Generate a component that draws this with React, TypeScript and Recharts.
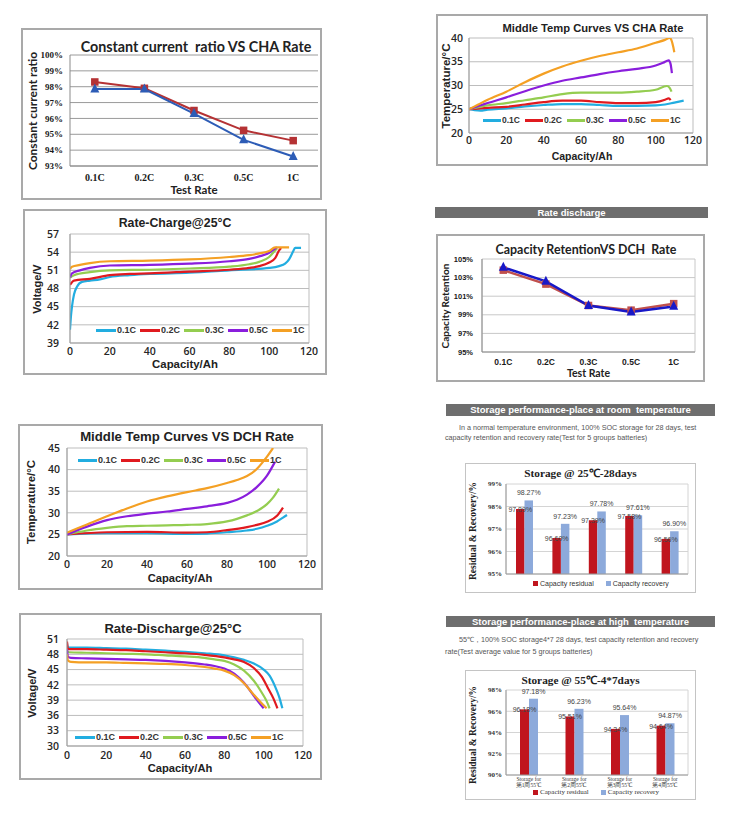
import React from "react";
import {
	Bar,
	BarChart,
	CartesianGrid,
	LabelList,
	Legend,
	Line,
	LineChart,
	XAxis,
	YAxis,
} from "recharts";

type Pt = [number, number];
type Box = { x: number; y: number; w: number; h: number };
type Plot = { l: number; t: number; r: number; b: number };

const SANS = '"Liberation Sans", Arial, sans-serif';
const SERIF = '"Liberation Serif", "Times New Roman", serif';
const LATO = 'Lato, "Liberation Sans", sans-serif';
const TICK = '"Open Sans", "Liberation Sans", sans-serif';

// ---------- data ----------
const rates = ["0.1C", "0.2C", "0.3C", "0.5C", "1C"];
const rateColors = ["#22ADE0", "#E01A1F", "#94CD50", "#8A1EDC", "#F4A024"];

const ccRatioSquare = [98.3, 97.9, 96.5, 95.25, 94.6];
const ccRatioTriangle = [97.85, 97.85, 96.3, 94.65, 93.6];
const ccTicks = [93, 94, 95, 96, 97, 98, 99, 100];

const retentionSquare = [103.8, 102.3, 100.0, 99.5, 100.2];
const retentionTriangle = [104.1, 102.6, 100.0, 99.3, 99.9];
const retentionTicks = [95, 97, 99, 101, 103, 105];

const capTicks = [0, 20, 40, 60, 80, 100, 120];

// middle temp vs charge rate (Ah, °C)
const chaTemp01: Pt[] = [[0, 25], [3, 24.8], [6, 24.7], [10, 24.9], [20, 25.2], [30, 25.6], [40, 25.9], [50, 26.1], [60, 26.1], [70, 25.9], [80, 25.7], [90, 25.7], [100, 25.8], [105, 26], [110, 26.4], [115, 26.8]];
const chaTemp02: Pt[] = [[0, 25], [10, 25.3], [20, 25.5], [30, 26], [40, 26.5], [50, 26.8], [60, 26.8], [70, 26.5], [80, 26.3], [90, 26.3], [100, 26.5], [105, 27], [107, 27.3], [108, 26.9]];
const chaTemp03: Pt[] = [[0, 25], [10, 25.8], [20, 26.3], [30, 26.9], [40, 27.5], [50, 28.2], [60, 28.5], [70, 28.5], [80, 28.5], [90, 28.7], [100, 29.1], [106, 29.9], [107.5, 29.5], [108.5, 28.7]];
const chaTemp05: Pt[] = [[0, 25], [10, 26.3], [20, 27.5], [30, 28.8], [40, 30], [50, 31], [60, 31.7], [70, 32.4], [80, 33], [90, 33.5], [100, 34.2], [104, 34.8], [107, 35.3], [108, 34.5], [108.7, 32.6]];
const chaTemp1: Pt[] = [[0, 25], [5, 26], [10, 27], [20, 28.7], [30, 30.7], [40, 32.5], [50, 34], [60, 35.2], [70, 36.2], [80, 37], [90, 37.8], [100, 39], [105, 39.6], [107.5, 40], [108.5, 39.5], [109.5, 38], [110, 37]];
const chaTempTicks = [20, 25, 30, 35, 40];

// charge voltage (Ah, V)
const chaVolt01: Pt[] = [[0, 41.2], [0.5, 43.5], [1, 45], [2, 47], [3.5, 48.3], [6, 49.1], [10, 49.3], [15, 49.5], [20, 49.9], [30, 50.2], [40, 50.4], [60, 50.6], [80, 51], [100, 51.4], [105, 51.7], [108, 52.1], [110, 52.8], [112, 54.1], [113, 54.7], [116, 54.7]];
const chaVolt02: Pt[] = [[0, 48.6], [2, 49.3], [10, 49.6], [20, 50.2], [30, 50.4], [40, 50.5], [60, 50.8], [80, 51.1], [90, 51.4], [95, 51.7], [100, 52.3], [103, 53], [105, 54.3], [106, 54.7]];
const chaVolt03: Pt[] = [[0, 49.8], [2, 50.2], [10, 50.7], [20, 51], [40, 51.1], [60, 51.3], [80, 51.6], [90, 52], [95, 52.4], [100, 53.2], [103, 54.3], [104, 54.6]];
const chaVolt05: Pt[] = [[0, 49.8], [1, 50.5], [5, 51], [10, 51.4], [20, 51.8], [40, 51.9], [60, 52.1], [80, 52.5], [90, 52.9], [95, 53.3], [100, 53.9], [103, 54.6], [104, 54.8]];
const chaVolt1: Pt[] = [[0, 51.2], [1, 51.6], [5, 51.9], [10, 52.2], [20, 52.5], [40, 52.6], [60, 52.8], [80, 53.2], [90, 53.5], [95, 53.8], [100, 54.2], [103, 54.8], [110, 54.8]];
const chaVoltTicks = [39, 42, 45, 48, 51, 54, 57];

// middle temp vs discharge rate (Ah, °C)
const dchTemp01: Pt[] = [[0, 25], [20, 25.3], [40, 25.3], [60, 25.1], [70, 25.2], [80, 25.5], [90, 25.9], [95, 26.3], [100, 27], [105, 28], [108, 28.9], [110, 29.5]];
const dchTemp02: Pt[] = [[0, 25], [20, 25.5], [40, 25.6], [60, 25.4], [70, 25.5], [80, 26], [90, 26.7], [95, 27.2], [100, 27.9], [105, 29.3], [108, 31.2]];
const dchTemp03: Pt[] = [[0, 25], [10, 25.9], [20, 26.5], [30, 26.9], [40, 27], [50, 27.1], [60, 27.2], [70, 27.4], [80, 28], [85, 28.6], [90, 29.4], [95, 30.4], [100, 32], [103, 33.5], [106, 35.6]];
const dchTemp05: Pt[] = [[0, 25], [10, 26.8], [20, 28.3], [30, 29.2], [40, 29.8], [50, 30.3], [60, 30.9], [70, 31.5], [80, 32.3], [85, 33], [90, 34.2], [95, 36], [100, 38.6], [104, 41.8]];
const dchTemp1: Pt[] = [[0, 25.4], [10, 27.3], [20, 29.2], [30, 31], [40, 32.6], [50, 33.8], [60, 34.8], [70, 35.7], [80, 36.9], [85, 37.6], [90, 38.5], [95, 40.2], [98, 41.8], [100, 43], [103, 45]];
const dchTempTicks = [20, 25, 30, 35, 40, 45];

// discharge voltage (Ah, V)
const dchVolt01: Pt[] = [[0, 50.2], [0.5, 49.3], [10, 49.3], [20, 49.2], [30, 49.1], [40, 48.9], [50, 48.7], [60, 48.5], [70, 48.2], [80, 47.8], [85, 47.4], [90, 46.9], [95, 46.2], [100, 45], [103, 43.8], [106, 41.5], [108, 39.5], [109.5, 37.4]];
const dchVolt02: Pt[] = [[0, 50.5], [0.5, 49], [10, 49], [20, 48.9], [30, 48.8], [40, 48.6], [50, 48.4], [60, 48.2], [70, 47.9], [80, 47.4], [85, 47], [90, 46.5], [95, 45.3], [99, 43.6], [102, 41.5], [105, 39.3], [107, 37.4]];
const dchVolt03: Pt[] = [[0, 48.6], [1, 48.4], [10, 48.3], [20, 48.2], [30, 48.1], [40, 48], [50, 47.8], [60, 47.6], [70, 47.3], [75, 47], [80, 46.7], [85, 46], [90, 44.8], [95, 42.8], [99, 40.5], [101.5, 38.8], [103, 37.4]];
const dchVolt05: Pt[] = [[0, 49], [0.5, 47.5], [2, 47.3], [10, 47.2], [20, 47.1], [30, 47], [40, 46.9], [50, 46.7], [60, 46.4], [70, 46], [75, 45.7], [80, 45.2], [85, 44.2], [90, 42.4], [94, 40.4], [97, 38.8], [100, 37.4]];
const dchVolt1: Pt[] = [[0, 48], [0.5, 46.8], [2, 46.5], [10, 46.4], [20, 46.4], [30, 46.3], [40, 46.2], [50, 46.1], [60, 45.9], [70, 45.5], [75, 45.2], [80, 44.8], [85, 43.9], [90, 42.3], [94, 40.5], [98, 38.8], [101.5, 37.4]];
const dchVoltTicks = [30, 33, 36, 39, 42, 45, 48, 51];

// storage
const storageNames = ["Capacity residual", "Capacity recovery"];
const storageColors = ["#C0151E", "#8DAADB"];
const storage25Groups = ["1", "2", "3", "4", "5"];
const storage25Residual = [97.89, 96.6, 97.39, 97.58, 96.56];
const storage25Recovery = [98.27, 97.23, 97.78, 97.61, 96.9];
const storage25Ticks = [95, 96, 97, 98, 99];

const storage55Groups = ["Storage for\n第1周55℃", "Storage for\n第2周55℃", "Storage for\n第3周55℃", "Storage for\n第4周55℃"];
const storage55Residual = [96.18, 95.51, 94.34, 94.64];
const storage55Recovery = [97.18, 96.23, 95.64, 94.87];
const storage55Ticks = [90, 92, 94, 96, 98];

// ---------- helpers ----------
const toXY = (pts: Pt[]) => pts.map(([x, y]) => ({ x, y }));
const pct = (v: number) => `${v}%`;
const pct2 = (v: any) => `${Number(v).toFixed(2)}%`;

function Txt({ x, y, size, children, family = SANS, weight = 700, color = "#222", rotate = 0, align = "center" }: any) {
	return (
		<div
			style={{
				position: "absolute",
				left: x,
				top: y,
				fontFamily: family,
				fontSize: size,
				fontWeight: weight,
				color,
				lineHeight: 1,
				whiteSpace: "pre",
				transform: `translate(${align === "center" ? "-50%" : "0"}, -50%) rotate(${rotate}deg)`,
			}}
		>
			{children}
		</div>
	);
}

function Banner({ x, y, w, h, text }: any) {
	return (
		<div
			style={{
				position: "absolute",
				left: x,
				top: y,
				width: w,
				height: h,
				background: "#6e6e6e",
				color: "#fff",
				fontFamily: SANS,
				fontWeight: 700,
				fontSize: 9.5,
				lineHeight: `${h}px`,
				textAlign: "center",
				whiteSpace: "pre",
			}}
		>
			{text}
		</div>
	);
}

function Frame({ b, border }: { b: Box; border: string }) {
	return (
		<div
			style={{
				position: "absolute",
				left: b.x,
				top: b.y,
				width: b.w,
				height: b.h,
				border,
				boxSizing: "border-box",
			}}
		/>
	);
}

const boxLines = ({ offset }: any) => [offset.left, offset.left + offset.width];

const lineLegend = (segW: number, font: number, gap: number, order: string[], family = SANS) => (props: any) => {
	const items = [...(props.payload || [])].sort((a: any, b: any) => order.indexOf(a.value) - order.indexOf(b.value));
	return (
		<div style={{ display: "flex", alignItems: "center", fontFamily: family, fontSize: font, fontWeight: 700, color: "#333", whiteSpace: "nowrap" }}>
			{items.map((it: any) => (
				<span key={it.value} style={{ display: "flex", alignItems: "center", marginRight: gap }}>
					<span style={{ display: "inline-block", width: segW, height: 3, background: it.color, marginRight: 1 }} />
					{it.value}
				</span>
			))}
		</div>
	);
};

const squareLegend = (font: number, family: string) => (props: any) => {
	const items = [...(props.payload || [])].sort((a: any, b: any) => storageNames.indexOf(a.value) - storageNames.indexOf(b.value));
	return (
		<div style={{ display: "flex", alignItems: "center", fontFamily: family, fontSize: font, color: "#333", whiteSpace: "nowrap" }}>
			{items.map((it: any) => (
				<span key={it.value} style={{ display: "flex", alignItems: "center", marginRight: 12 }}>
					<span style={{ display: "inline-block", width: 5, height: 5, background: it.color, marginRight: 2 }} />
					{it.value}
				</span>
			))}
		</div>
	);
};

const squareDot = (color: string, s: number) => (p: any) => (
	<rect key={`sq-${p.index}`} x={p.cx - s / 2} y={p.cy - s / 2} width={s} height={s} fill={color} />
);
const triDot = (color: string, s: number) => (p: any) => (
	<path
		key={`tr-${p.index}`}
		d={`M${p.cx},${p.cy - s * 0.62} L${p.cx + s / 2},${p.cy + s * 0.38} L${p.cx - s / 2},${p.cy + s * 0.38} Z`}
		fill={color}
	/>
);

// ---------- curve panel (capacity on x) ----------
function CurvePanel({ frame, plot, title, titleX, titleY, titleSize, yLabel, yLabelX, yLabelSize, xLabelX, xLabelY, xLabelSize, yDomain, yTicks, series, legendX, legendY, legendSeg, legendFont, legendGap, xTickGap, yTickGap }: any) {
	const xAxisH = 20;
	return (
		<>
			<Frame b={frame} border="2px solid #a9a9a9" />
			<Txt x={titleX} y={titleY} size={titleSize}>{title}</Txt>
			<Txt x={yLabelX} y={(plot.t + plot.b) / 2} size={yLabelSize} rotate={-90}>{yLabel}</Txt>
			<Txt x={xLabelX} y={xLabelY} size={xLabelSize}>Capacity/Ah</Txt>
			<div style={{ position: "absolute", left: frame.x, top: frame.y }}>
				<LineChart
					width={frame.w}
					height={frame.h}
					margin={{ top: plot.t - frame.y, right: frame.x + frame.w - plot.r, left: 0, bottom: frame.y + frame.h - plot.b - xAxisH }}
				>
					<CartesianGrid stroke="#bdbdbd" strokeWidth={1} verticalCoordinatesGenerator={boxLines} />
					<XAxis
						type="number"
						dataKey="x"
						domain={[0, 120]}
						ticks={capTicks}
						interval={0}
						height={xAxisH}
						allowDataOverflow
						axisLine={{ stroke: "#a0a0a0" }}
						tickLine={false}
						tickSize={xTickGap}
						tickMargin={0}
						tick={{ fontSize: 10.5, fill: "#262626", fontFamily: TICK, fontWeight: 600 }}
					/>
					<YAxis
						type="number"
						domain={yDomain}
						ticks={yTicks}
						interval={0}
						allowDataOverflow
						width={plot.l - frame.x}
						axisLine={{ stroke: "#a0a0a0" }}
						tickLine={false}
						tickSize={yTickGap}
						tickMargin={0}
						tick={{ fontSize: 10.5, fill: "#262626", fontFamily: TICK, fontWeight: 600 }}
					/>
					{series.map((pts: Pt[], i: number) => (
						<Line
							key={rates[i]}
							name={rates[i]}
							data={toXY(pts)}
							dataKey="y"
							type="monotone"
							stroke={rateColors[i]}
							strokeWidth={2.2}
							dot={false}
							isAnimationActive={false}
						/>
					))}
					<Legend
						layout="horizontal"
						verticalAlign="middle"
						content={lineLegend(legendSeg, legendFont, legendGap, rates)}
						wrapperStyle={{ left: legendX - frame.x, top: legendY - frame.y - 6, width: "auto", height: "auto" }}
					/>
				</LineChart>
			</div>
		</>
	);
}

// ---------- rate panel (categories on x) ----------
function RatePanel({ frame, plot, title, titleX, titleY, titleFont, titleSize, yLabel, yLabelX, yLabelSize, testY, testSize, sq, tri, yDomain, yTicks, sqColor, triColor, sqW, triW, yFont, yTickFont, xTickFont, xTickSize, xTickGap, yTickGap, border, gridColor, sideLines }: any) {
	const xAxisH = 20;
	const band = (plot.r - plot.l) / rates.length;
	const data = rates.map((r, i) => ({ rate: r, sq: sq[i], tri: tri[i] }));
	return (
		<>
			<Frame b={frame} border={border} />
			<Txt x={titleX} y={titleY} size={titleSize} family={titleFont}>{title}</Txt>
			<Txt x={yLabelX} y={(plot.t + plot.b) / 2} size={yLabelSize} family={LATO} rotate={-90}>{yLabel}</Txt>
			<Txt x={(plot.l + plot.r) / 2} y={testY} size={testSize} family={LATO}>Test Rate</Txt>
			<div style={{ position: "absolute", left: frame.x, top: frame.y }}>
				<LineChart
					width={frame.w}
					height={frame.h}
					data={data}
					margin={{ top: plot.t - frame.y, right: frame.x + frame.w - plot.r, left: 0, bottom: frame.y + frame.h - plot.b - xAxisH }}
				>
					<CartesianGrid
						stroke={gridColor}
						strokeWidth={1}
						vertical={sideLines}
						verticalCoordinatesGenerator={boxLines}
					/>
					<XAxis
						dataKey="rate"
						padding={{ left: band / 2, right: band / 2 }}
						height={xAxisH}
						interval={0}
						axisLine={{ stroke: "#8a8a8a" }}
						tickLine={false}
						tickSize={xTickGap}
						tickMargin={0}
						tick={{ fontSize: xTickSize, fill: "#1a1a1a", fontFamily: xTickFont, fontWeight: 700 }}
					/>
					<YAxis
						type="number"
						domain={yDomain}
						ticks={yTicks}
						interval={0}
						allowDataOverflow
						width={plot.l - frame.x}
						axisLine={{ stroke: "#8a8a8a" }}
						tickLine={false}
						tickSize={yTickGap}
						tickMargin={0}
						tickFormatter={pct}
						tick={{ fontSize: yFont, fill: "#1a1a1a", fontFamily: yTickFont, fontWeight: 700 }}
					/>
					<Line dataKey="sq" stroke={sqColor} strokeWidth={sqW} dot={squareDot(sqColor, 7.5)} activeDot={false} isAnimationActive={false} />
					<Line dataKey="tri" stroke={triColor} strokeWidth={triW} dot={triDot(triColor, 9)} activeDot={false} isAnimationActive={false} />
				</LineChart>
			</div>
		</>
	);
}

// ---------- storage panel ----------
function CatTick({ x, y, payload }: any) {
	const lines = String(payload.value).split("\n");
	return (
		<text x={x} y={y} textAnchor="middle" fontFamily={SERIF} fontSize={5.5} fill="#333">
			{lines.map((l, i) => (
				<tspan key={i} x={x} dy={i === 0 ? 5 : 6}>{l}</tspan>
			))}
		</text>
	);
}

function StoragePanel({ frame, plot, title, groups, residual, recovery, domain, ticks, barSize, showCats, legendX, legendY, legendFamily }: any) {
	const xAxisH = showCats ? 14 : 8;
	const data = groups.map((g: string, i: number) => ({ group: g, residual: residual[i], recovery: recovery[i] }));
	const margin = { top: plot.t - frame.y, right: frame.x + frame.w - plot.r, left: 0, bottom: frame.y + frame.h - plot.b - xAxisH };
	const yW = plot.l - frame.x;
	const labelStyle = { fontSize: 7, fill: "#444", fontFamily: SANS };
	return (
		<>
			<Frame b={frame} border="1.5px solid #c4c4c4" />
			<Txt x={(frame.x + frame.x + frame.w) / 2} y={frame.y + 11} size={11.3} family={SERIF}>{title}</Txt>
			<Txt x={frame.x + 9} y={(plot.t + plot.b) / 2 + 2} size={9.5} family={SERIF} rotate={-90}>Residual &amp; Recovery/%</Txt>
			<div style={{ position: "absolute", left: frame.x, top: frame.y }}>
				<BarChart width={frame.w} height={frame.h} data={data} barGap={0} margin={margin}>
					<CartesianGrid stroke="#d4d4d4" strokeWidth={1} verticalCoordinatesGenerator={boxLines} />
					<XAxis
						dataKey="group"
						height={xAxisH}
						interval={0}
						axisLine={{ stroke: "#9a9a9a" }}
						tickLine={false}
						tickSize={1}
						tickMargin={0}
						tick={showCats ? <CatTick /> : false}
					/>
					<YAxis
						type="number"
						domain={domain}
						ticks={ticks}
						interval={0}
						allowDataOverflow
						width={yW}
						axisLine={{ stroke: "#9a9a9a" }}
						tickLine={false}
						tickSize={4}
						tickMargin={0}
						tickFormatter={pct}
						tick={{ fontSize: 7, fill: "#333", fontFamily: SERIF, fontWeight: 700 }}
					/>
					<Bar dataKey="residual" name={storageNames[0]} fill={storageColors[0]} barSize={barSize} isAnimationActive={false} />
					<Bar dataKey="recovery" name={storageNames[1]} fill={storageColors[1]} barSize={barSize} isAnimationActive={false} />
					<Legend
						layout="horizontal"
						verticalAlign="middle"
						content={squareLegend(7, legendFamily)}
						wrapperStyle={{ left: legendX - frame.x, top: legendY - frame.y - 5, width: "auto", height: "auto" }}
					/>
				</BarChart>
			</div>
			{/* same geometry again, only for the value labels so they sit above both bars */}
			<div style={{ position: "absolute", left: frame.x, top: frame.y, pointerEvents: "none" }}>
				<BarChart width={frame.w} height={frame.h} data={data} barGap={0} margin={margin}>
					<XAxis dataKey="group" height={xAxisH} axisLine={false} tickLine={false} tick={false} />
					<YAxis type="number" domain={domain} ticks={ticks} allowDataOverflow width={yW} axisLine={false} tickLine={false} tick={false} />
					<Bar dataKey="residual" fill="transparent" barSize={barSize} isAnimationActive={false}>
						<LabelList dataKey="residual" position="top" offset={-3} formatter={pct2} style={labelStyle} />
					</Bar>
					<Bar dataKey="recovery" fill="transparent" barSize={barSize} isAnimationActive={false}>
						<LabelList dataKey="recovery" position="top" offset={5} formatter={pct2} style={labelStyle} />
					</Bar>
				</BarChart>
			</div>
		</>
	);
}

export default function App() {
	return (
		<div style={{ position: "absolute", left: 0, top: 0, width: 750, height: 824, background: "#fff", overflow: "hidden" }}>
			<RatePanel
				frame={{ x: 21, y: 28, w: 301, h: 172 }}
				plot={{ l: 70, t: 55, r: 318, b: 166 }}
				title="Constant current  ratio VS CHA Rate"
				titleX={196}
				titleY={47}
				titleFont={LATO}
				titleSize={14.3}
				yLabel="Constant current ratio"
				yLabelX={33}
				yLabelSize={12}
				testY={190}
				testSize={11.5}
				sq={ccRatioSquare}
				tri={ccRatioTriangle}
				yDomain={[93, 100]}
				yTicks={ccTicks}
				sqColor="#B53234"
				triColor="#2D5CB6"
				sqW={2}
				triW={2}
				yFont={9}
				yTickFont={SERIF}
				xTickFont={SERIF}
				xTickSize={10}
				xTickGap={8}
				yTickGap={7}
				border="2px solid #a9a9a9"
				gridColor="#9a9a9a"
				sideLines={false}
			/>

			<CurvePanel
				frame={{ x: 436, y: 14, w: 272, h: 152 }}
				plot={{ l: 469, t: 38, r: 693, b: 133 }}
				title="Middle Temp Curves VS CHA Rate"
				titleX={593}
				titleY={29}
				titleSize={11.2}
				yLabel="Temperature/°C"
				yLabelX={447}
				yLabelSize={11.5}
				xLabelX={582}
				xLabelY={156}
				xLabelSize={10.5}
				yDomain={[20, 40]}
				yTicks={chaTempTicks}
				series={[chaTemp01, chaTemp02, chaTemp03, chaTemp05, chaTemp1]}
				legendX={483}
				legendY={121}
				legendSeg={18}
				legendFont={8.5}
				legendGap={5}
				xTickGap={4}
				yTickGap={6}
			/>

			<Banner x={435} y={207} w={273} h={11} text="Rate discharge" />

			<CurvePanel
				frame={{ x: 23, y: 209, w: 304, h: 166 }}
				plot={{ l: 70, t: 234, r: 309, b: 343 }}
				title="Rate-Charge@25°C"
				titleX={175}
				titleY={223}
				titleSize={12.3}
				yLabel="Voltage/V"
				yLabelX={37}
				yLabelSize={11}
				xLabelX={185}
				xLabelY={365}
				xLabelSize={11.4}
				yDomain={[39, 57]}
				yTicks={chaVoltTicks}
				series={[chaVolt01, chaVolt02, chaVolt03, chaVolt05, chaVolt1]}
				legendX={96}
				legendY={331}
				legendSeg={20}
				legendFont={9}
				legendGap={4}
				xTickGap={5}
				yTickGap={11}
			/>

			<RatePanel
				frame={{ x: 436, y: 234, w: 269, h: 148 }}
				plot={{ l: 482, t: 259, r: 695, b: 352 }}
				title="Capacity RetentionVS DCH  Rate"
				titleX={586}
				titleY={250}
				titleFont={LATO}
				titleSize={12.4}
				yLabel="Capacity Retention"
				yLabelX={445}
				yLabelSize={10}
				testY={373}
				testSize={10.5}
				sq={retentionSquare}
				tri={retentionTriangle}
				yDomain={[95, 105]}
				yTicks={retentionTicks}
				sqColor="#C0504D"
				triColor="#1818C8"
				sqW={2.5}
				triW={2.5}
				yFont={7.5}
				yTickFont={SANS}
				xTickFont={SANS}
				xTickSize={8.5}
				xTickGap={7}
				yTickGap={9}
				border="2px solid #a9a9a9"
				gridColor="#c8c8c8"
				sideLines={true}
			/>

			<Banner x={446} y={404} w={269} h={12} text="Storage performance-place at room  temperature" />
			<Txt x={459} y={428} size={7.2} weight={400} color="#555" align="left">
				In a normal temperature environment, 100% SOC storage for 28 days, test
			</Txt>
			<Txt x={445} y={438} size={7.2} weight={400} color="#555" align="left">
				capacity retention and recovery rate(Test for 5 groups batteries)
			</Txt>

			<CurvePanel
				frame={{ x: 18, y: 424, w: 305, h: 166 }}
				plot={{ l: 67, t: 448, r: 307, b: 556 }}
				title="Middle Temp Curves VS DCH Rate"
				titleX={187}
				titleY={437}
				titleSize={13.2}
				yLabel="Temperature/°C"
				yLabelX={32}
				yLabelSize={11.4}
				xLabelX={180}
				xLabelY={579}
				xLabelSize={11.2}
				yDomain={[20, 45]}
				yTicks={dchTempTicks}
				series={[dchTemp01, dchTemp02, dchTemp03, dchTemp05, dchTemp1]}
				legendX={78}
				legendY={461}
				legendSeg={19}
				legendFont={9}
				legendGap={4}
				xTickGap={5}
				yTickGap={7}
			/>

			<StoragePanel
				frame={{ x: 465, y: 463, w: 231, h: 130 }}
				plot={{ l: 506, t: 484, r: 688, b: 574 }}
				title="Storage @ 25℃-28days"
				groups={storage25Groups}
				residual={storage25Residual}
				recovery={storage25Recovery}
				domain={[95, 99]}
				ticks={storage25Ticks}
				barSize={8.5}
				showCats={false}
				legendX={533}
				legendY={585}
				legendFamily={SANS}
			/>

			<CurvePanel
				frame={{ x: 19, y: 613, w: 303, h: 167 }}
				plot={{ l: 67, t: 639, r: 303, b: 746 }}
				title="Rate-Discharge@25°C"
				titleX={173}
				titleY={628}
				titleSize={13}
				yLabel="Voltage/V"
				yLabelX={32}
				yLabelSize={11}
				xLabelX={180}
				xLabelY={769}
				xLabelSize={11.2}
				yDomain={[30, 51]}
				yTicks={dchVoltTicks}
				series={[dchVolt01, dchVolt02, dchVolt03, dchVolt05, dchVolt1]}
				legendX={75}
				legendY={738}
				legendSeg={20}
				legendFont={9}
				legendGap={4}
				xTickGap={6}
				yTickGap={8}
			/>

			<Banner x={446} y={616} w={269} h={11} text="Storage performance-place at high  temperature" />
			<Txt x={459} y={640} size={7.2} weight={400} color="#555" align="left">
				55℃，100% SOC storage4*7 28 days, test capacity retention and recovery
			</Txt>
			<Txt x={445} y={652} size={7.2} weight={400} color="#555" align="left">
				rate(Test average value for 5 groups batteries)
			</Txt>

			<StoragePanel
				frame={{ x: 465, y: 670, w: 231, h: 130 }}
				plot={{ l: 506, t: 690, r: 688, b: 775 }}
				title="Storage @ 55℃-4*7days"
				groups={storage55Groups}
				residual={storage55Residual}
				recovery={storage55Recovery}
				domain={[90, 98]}
				ticks={storage55Ticks}
				barSize={9}
				showCats={true}
				legendX={533}
				legendY={793}
				legendFamily={SERIF}
			/>
		</div>
	);
}
